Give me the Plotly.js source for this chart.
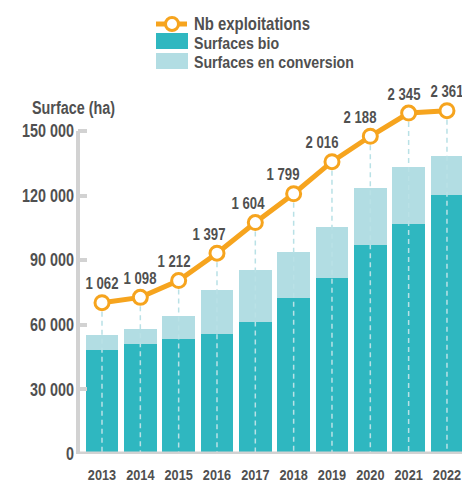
<!DOCTYPE html>
<html>
<head>
<meta charset="utf-8">
<script src="https://cdn.plot.ly/plotly-3.0.1.min.js"></script>
<style>
html,body{margin:0;padding:0;background:#fff;}
#chart{width:462px;height:482px;}
</style>
</head>
<body>
<div id="chart"></div>
<script>
// ---- data ----
const years = ['2013','2014','2015','2016','2017','2018','2019','2020','2021','2022'];
const surfBio = [48300, 51000, 53400, 55700, 61300, 72400, 81700, 97000, 106700, 120200];
const surfConv = [6900, 7000, 10600, 20400, 24100, 21300, 23600, 26400, 26500, 18100];
const nbExpl = [1062, 1098, 1212, 1397, 1604, 1799, 2016, 2188, 2345, 2361];
const yTickVals = [0, 30000, 60000, 90000, 120000, 150000];
const yTickText = ['0', '30 000', '60 000', '90 000', '120 000', '150 000'];
const seriesNames = ['Nb exploitations', 'Surfaces bio', 'Surfaces en conversion'];
const yAxisTitle = 'Surface (ha)';

// ---- style / layout constants ----
const W = 462, H = 482;
const M = {l: 78, r: 0, t: 90, b: 28};
const PW = W - M.l - M.r, PH = H - M.t - M.b;
const Y2RANGE = [38.3, 2501];
const YMAX = 150000 * PH / 323;
const labelDx = [0, 0, -5, -8, -7, -11, -10, -10, -5, 0];
const C = {bio: '#2fb7c0', conv: '#b2dde3', orange: '#f6a41e', text: '#505050', axis: '#d2d2d2', dash: '#b9e1e6'};
const FONT = 'Liberation Sans, Arial, sans-serif';
const NARROW = 0.82;  // horizontal condensing of all texts (narrow face emulation)
const px = x => (x - M.l) / PW;          // pixel -> paper x
const py = y => (H - M.b - y) / PH;      // pixel -> paper y

const fmt = v => String(v).replace(/\B(?=(\d{3})+(?!\d))/g, ' ');

// dashed drop lines
const dx = [], dy = [];
years.forEach((yr, i) => { dx.push(yr, yr, null); dy.push(nbExpl[i], Y2RANGE[0], null); });

const traces = [
  {type: 'bar', x: years, y: surfBio, name: seriesNames[1], marker: {color: C.bio}, hoverinfo: 'skip'},
  {type: 'bar', x: years, y: surfConv, name: seriesNames[2], marker: {color: C.conv}, hoverinfo: 'skip'},
  {type: 'scatter', mode: 'lines', x: dx, y: dy, yaxis: 'y2', line: {color: C.dash, width: 1.5, dash: '5px,4px'}, hoverinfo: 'skip', showlegend: false},
  {type: 'scatter', mode: 'lines+markers', x: years, y: nbExpl, yaxis: 'y2', name: seriesNames[0],
   line: {color: C.orange, width: 5}, marker: {symbol: 'circle', size: 14, color: '#ffffff', line: {color: C.orange, width: 3}},
   hoverinfo: 'skip', cliponaxis: false}
];

// value labels (x given as category index, since the year strings look numeric)
const annotations = years.map((yr, i) => ({
  x: i, y: nbExpl[i], xref: 'x', yref: 'y2', text: fmt(nbExpl[i]), showarrow: false,
  xshift: labelDx[i], yshift: 19, yanchor: 'middle', xanchor: 'center',
  font: {family: FONT, size: 16, color: C.text, weight: 700}
}));
annotations.push({xref: 'paper', yref: 'paper', x: px(29.5), y: py(108), xanchor: 'left', align: 'left', yanchor: 'middle',
  text: yAxisTitle, showarrow: false, font: {family: FONT, size: 17.5, color: C.text, weight: 700}});
// legend texts
[24, 43, 62].forEach((yy, i) => annotations.push({xref: 'paper', yref: 'paper', x: px(192), y: py(yy),
  xanchor: 'left', align: 'left', yanchor: 'middle', text: seriesNames[i], showarrow: false,
  font: {family: FONT, size: i === 0 ? 18.2 : 17.3, color: C.text, weight: 700}}));

const shapes = [
  {type: 'line', xref: 'paper', yref: 'y', x0: 0, x1: 0, y0: 0, y1: 150000, line: {color: C.axis, width: 4}, layer: 'below'},
  {type: 'line', xref: 'paper', yref: 'y', x0: px(76), x1: 1, y0: 0, y1: 0, line: {color: C.axis, width: 5}, layer: 'above'},
  {type: 'line', xref: 'paper', yref: 'paper', x0: px(156), x1: px(187), y0: py(24), y1: py(24), line: {color: C.orange, width: 5}},
  {type: 'circle', xref: 'paper', yref: 'paper', x0: px(165.5), x1: px(178.5), y0: py(17.5), y1: py(30.5), fillcolor: '#ffffff', line: {color: C.orange, width: 3}},
  {type: 'rect', xref: 'paper', yref: 'paper', x0: px(156), x1: px(188), y0: py(33), y1: py(49), fillcolor: C.bio, line: {width: 0}},
  {type: 'rect', xref: 'paper', yref: 'paper', x0: px(156), x1: px(188), y0: py(53), y1: py(69), fillcolor: C.conv, line: {width: 0}}
];

const layout = {
  width: W, height: H, margin: M,
  paper_bgcolor: '#ffffff', plot_bgcolor: '#ffffff',
  showlegend: false, barmode: 'stack', bargap: 0.15,
  font: {family: FONT, color: C.text},
  xaxis: {type: 'category', range: [-0.626, 9.392], showgrid: false, zeroline: false, showline: false,
          ticks: '', tickangle: 0, tickfont: {family: FONT, size: 15.5, color: C.text, weight: 700}, ticklabelstandoff: 9, fixedrange: true},
  yaxis: {range: [0, YMAX], tickvals: yTickVals, ticktext: yTickText, showgrid: false, zeroline: false, showline: false,
          ticks: 'inside', ticklen: 9, tickwidth: 4, tickcolor: C.axis,
          tickfont: {family: FONT, size: 17.5, color: C.text, weight: 700}, ticklabelstandoff: 3, fixedrange: true},
  yaxis2: {overlaying: 'y', side: 'right', range: Y2RANGE, showticklabels: false, showgrid: false, zeroline: false,
           showline: false, ticks: '', fixedrange: true},
  annotations: annotations,
  shapes: shapes
};

function condense() {
  document.querySelectorAll('#chart svg text').forEach(t => {
    const L = t.getComputedTextLength();
    if (L > 0) {
      t.setAttribute('textLength', (L * NARROW).toFixed(2));
      t.setAttribute('lengthAdjust', 'spacingAndGlyphs');
    }
  });
}

Plotly.newPlot('chart', traces, layout, {displayModeBar: false, staticPlot: true}).then(condense);
</script>
</body>
</html>
